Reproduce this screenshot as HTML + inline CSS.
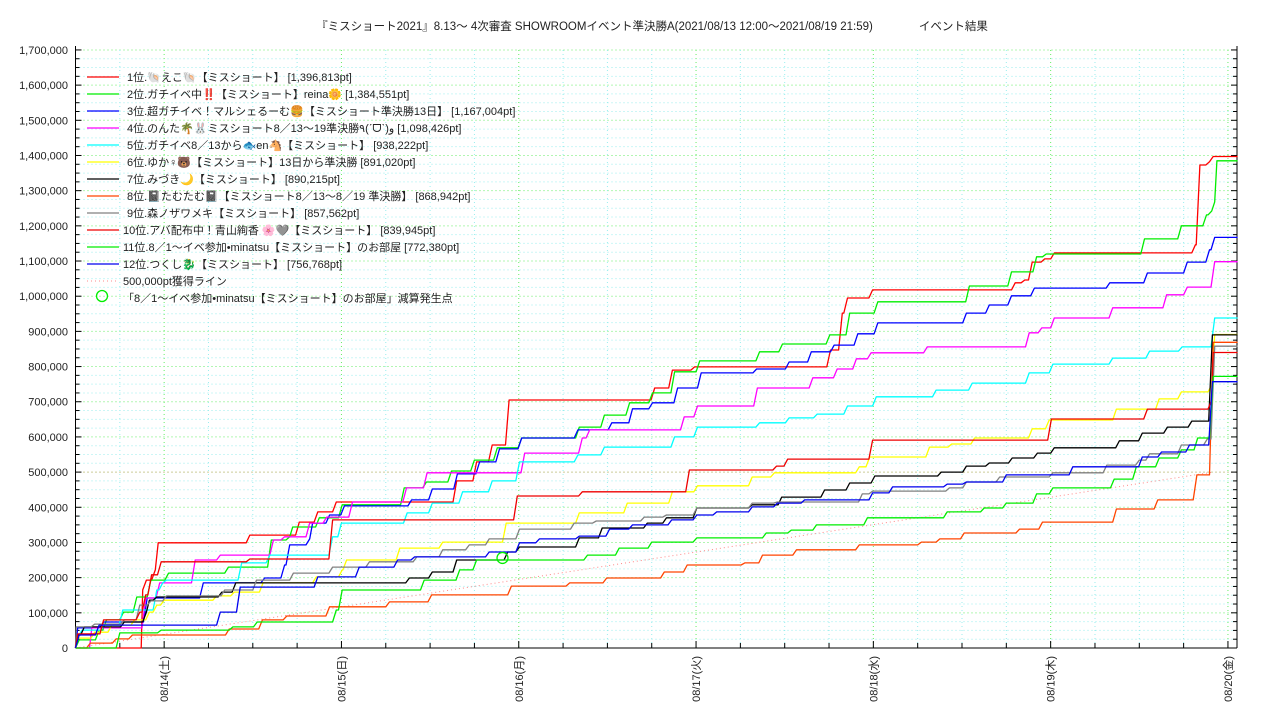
<!DOCTYPE html>
<html><head><meta charset="utf-8">
<style>
html,body{margin:0;padding:0;background:#fff;}
body{width:1280px;height:720px;overflow:hidden;font-family:"Liberation Sans","Noto Sans CJK JP",sans-serif;}
svg text{font-family:"Liberation Sans","Noto Sans CJK JP",sans-serif;}
</style></head>
<body>
<svg id="chart" width="1280" height="720" xmlns="http://www.w3.org/2000/svg">
<text x="652" y="30" font-size="11.5" text-anchor="middle" fill="#222">『ミスショート2021』8.13～ 4次審査 SHOWROOMイベント準決勝A(2021/08/13 12:00～2021/08/19 21:59)　　　　イベント結果</text>
<g id="grid"></g>
<g id="axes"></g>
<g id="series"></g>
<g id="legend"></g>
</svg>
<script>
const seriesNames = ["1位.🐚えこ🐚【ミスショート】 [1,396,813pt]","2位.ガチイベ中‼️【ミスショート】reina🌼 [1,384,551pt]","3位.超ガチイベ！マルシェるーむ🍔【ミスショート準決勝13日】 [1,167,004pt]","4位.のんた🌴🐰ミスショート8／13〜19準決勝٩(ˊᗜˋ)و [1,098,426pt]","5位.ガチイベ8／13から🐟en🐴【ミスショート】 [938,222pt]","6位.ゆか♀🐻【ミスショート】13日から準決勝 [891,020pt]","7位.みづき🌙【ミスショート】 [890,215pt]","8位.📓たむたむ📓【ミスショート8／13〜8／19 準決勝】 [868,942pt]","9位.森ノザワメキ【ミスショート】 [857,562pt]","10位.アバ配布中！青山絢香 🌸🩶【ミスショート】 [839,945pt]","11位.8／1〜イベ参加•minatsu【ミスショート】のお部屋 [772,380pt]","12位.つくし🐉【ミスショート】 [756,768pt]"];
const seriesColors = ["#ff0000","#00ee00","#0000ff","#ff00ff","#00ffff","#ffff00","#000000","#ff4500","#808080","#ee0000","#00ee00","#0000ee"];
// [hours since 2021/08/13 12:00, points (thousands)] change events
const s1 = [[0,0],[8.9,0],[9.1,165],[9.6,193],[10.8,222],[11.2,299],[23.6,321],[30.3,358],[32.8,387],[35.3,415],[51.6,475],[54.3,529],[56.4,577],[58.7,705],[78.4,739],[80.8,790],[83.8,799],[102.2,847],[103.8,952],[104.5,995],[107.9,1018],[127.2,1038],[128.5,1046],[129.5,1097],[131.2,1106],[132.5,1123],[151.6,1146],[152.2,1373],[153.5,1382],[154.0,1397]];
const s2 = [[0,0],[0.5,23],[3.2,51],[4.2,80],[6.5,102],[8.3,145],[10.2,193],[12.6,213],[20.7,230],[26.5,307],[29.0,316],[29.4,344],[33.0,370],[36.1,407],[44.5,455],[47.5,472],[50.9,503],[54.0,534],[57.1,569],[60.4,597],[68.2,628],[71.6,662],[75.0,697],[78.1,725],[81.1,785],[84.5,816],[92.6,842],[95.7,864],[102.1,890],[104.8,952],[108.6,984],[121.0,1029],[126.7,1069],[130.1,1112],[131.4,1120],[144.7,1163],[149.7,1200],[153.1,1231],[153.8,1242],[154.2,1268],[154.5,1385]];
const s3 = [[0,0],[0.3,57],[3.8,74],[9.7,142],[17.3,185],[25.6,199],[28.3,236],[29.0,293],[31.7,310],[32.1,355],[34.4,378],[36.4,404],[45.5,421],[48.3,452],[51.7,495],[54.7,529],[57.4,566],[60.4,597],[68.0,620],[72.6,640],[75.4,680],[78.1,697],[81.5,739],[84.7,782],[92.2,793],[96.6,813],[99.6,842],[102.7,861],[105.9,893],[108.6,924],[120.6,952],[123.7,975],[126.7,1001],[129.8,1023],[140.0,1038],[145.1,1066],[150.5,1097],[153.5,1132],[154.2,1167]];
const s4 = [[0,0],[1.9,0],[2.2,57],[9.5,142],[11.4,185],[16.2,250],[19.6,264],[26.8,307],[28.3,316],[31.7,355],[34.0,372],[37.5,415],[44.8,455],[47.6,498],[60.8,554],[68.6,597],[69.6,620],[82.4,657],[84.2,688],[92.3,739],[99.8,768],[103.1,793],[105.7,822],[107.7,839],[115.3,856],[129.1,896],[130.8,910],[132.5,938],[140.4,967],[147.7,1004],[150.5,1026],[154.2,1098]];
const s5 = [[0,0],[0.3,34],[0.9,51],[3.9,65],[6.4,108],[11.0,165],[11.8,185],[12.3,193],[22.5,242],[26.3,264],[34.8,316],[36.0,355],[44.9,384],[48.3,412],[52.4,444],[56.4,475],[60.1,529],[68.0,549],[71.6,571],[81.1,600],[84.2,628],[92.6,640],[96.6,654],[100.4,665],[104.5,688],[108.4,714],[116.5,733],[121.4,753],[129.1,782],[132.3,807],[140.4,824],[145.4,844],[149.8,856],[154.2,938]];
const s6 = [[0,0],[0.3,28],[2.6,45],[4.9,65],[8.0,80],[10.0,102],[11.0,122],[12.0,136],[19.1,148],[21.5,159],[25.4,185],[32.6,202],[36.1,222],[36.7,250],[43.9,284],[49.7,301],[58.3,355],[68.2,384],[74.7,412],[80.8,444],[84.2,461],[91.6,486],[94.6,498],[106.1,515],[107.5,543],[115.6,571],[118.6,580],[121.7,597],[129.5,623],[131.8,648],[140.9,679],[146.7,708],[149.7,728],[153.8,748],[154.2,891]];
const s7 = [[0,0],[0.3,37],[1.2,60],[6.6,74],[9.6,102],[10.0,136],[11.0,145],[19.8,159],[21.7,185],[45.2,199],[48.3,216],[51.6,250],[58.5,273],[60.1,287],[68.2,313],[71.3,341],[77.4,355],[80.0,370],[84.1,398],[91.6,407],[95.6,429],[101.4,449],[104.8,469],[108.2,489],[117.2,500],[120.6,517],[123.7,526],[126.8,540],[130.2,554],[132.5,569],[141.3,589],[144.4,611],[147.8,628],[151.1,645],[153.9,890]];
const s8 = [[0,0],[2.0,14],[5.5,26],[7.7,37],[20.8,54],[25.3,80],[28.6,91],[34.4,117],[42.5,131],[48.2,151],[59.0,176],[66.9,185],[71.9,199],[79.7,216],[82.8,236],[90.6,242],[93.0,264],[97.6,279],[106.1,293],[114.5,301],[117.0,310],[120.3,327],[127.8,338],[130.9,358],[140.9,395],[146.5,421],[151.8,492],[154.0,869]];
const s9 = [[0,0],[0.1,60],[2.6,68],[6.6,80],[8.7,122],[10.2,134],[12.3,148],[20.2,165],[24.5,193],[29.5,213],[34.8,230],[39.8,245],[46.2,259],[49.7,279],[53.3,293],[56.0,310],[60.1,338],[67.5,355],[70.5,361],[77.0,372],[80.0,378],[84.1,398],[91.6,412],[95.0,415],[106.5,438],[107.9,446],[118.3,455],[120.6,472],[125.1,486],[132.3,498],[139.6,520],[144.0,534],[145.4,552],[149.7,577],[153.2,594],[154.2,858]];
const s10 = [[0,0],[0.3,40],[3.8,80],[8.7,102],[9.5,151],[10.3,208],[11.6,245],[23.6,253],[34.8,364],[59.8,432],[68.6,444],[83.1,506],[94.9,517],[96.4,537],[107.9,591],[132.1,651],[145.1,679],[153.8,705],[154.0,840]];
const s11 = [[0,0],[6.0,43],[11.6,51],[21.3,60],[24.6,74],[35.3,108],[36.1,165],[47.2,193],[52.0,222],[54.3,250],[69.3,264],[73.6,284],[78.0,301],[84.1,313],[93.5,327],[96.9,335],[100.3,350],[107.2,370],[118.0,387],[123.0,398],[126.0,412],[130.1,438],[132.3,455],[140.6,480],[143.6,515],[146.7,540],[149.7,563],[151.9,597],[154.0,772]];
const s12 = [[0,0],[0.5,37],[3.2,65],[19.6,102],[22.3,173],[32.8,202],[38.4,230],[43.6,250],[45.9,259],[56.0,273],[60.1,299],[62.8,310],[68.2,318],[72.3,338],[75.4,350],[80.7,364],[84.1,378],[86.8,387],[91.6,401],[95.0,412],[98.7,421],[107.9,441],[110.6,458],[118.0,466],[120.6,472],[126.0,492],[135.0,515],[144.4,543],[147.0,557],[150.8,577],[153.9,757]];
const allSeries = [s1,s2,s3,s4,s5,s6,s7,s8,s9,s10,s11,s12];
const yTicks = [0,100,200,300,400,500,600,700,800,900,1000,1100,1200,1300,1400,1500,1600,1700];
const dayLabels = ["08/14(土)","08/15(日)","08/16(月)","08/17(火)","08/18(水)","08/19(木)","08/20(金)"];
const targetLine = [[0,0],[154.0,500]];
const minusPoint = [57.8,256];
const endHour = 157.3;

const NS="http://www.w3.org/2000/svg";
const X0=75.5, PXH=7.3875, Y0=648, PXK=0.3518, XR=1237, YT=50;
const xs=h=>X0+h*PXH, ys=k=>Y0-k*PXK;
function mk(tag,attrs,parent){const e=document.createElementNS(NS,tag);for(const k in attrs)e.setAttribute(k,attrs[k]);parent.appendChild(e);return e;}
const grid=document.getElementById('grid'), axes=document.getElementById('axes'), ser=document.getElementById('series'), leg=document.getElementById('legend');

// horizontal grid every 25k
for(let k=25;k<=1700;k+=25){
  const major=k%100===0;
  const col = k===500?'#999933':(major?'#66ee66':'#99eeee');
  const l=mk('line',{x1:X0,x2:XR,y1:ys(k),y2:ys(k),stroke:col,'stroke-width':1,'stroke-dasharray':'1,3'},grid);
  
  
}
// vertical grid every 6h
for(let h=6;h<endHour;h+=6){
  const major=(h-12)%24===0;
  const l=mk('line',{x1:xs(h),x2:xs(h),y1:YT,y2:Y0,stroke:major?'#66ee66':'#99eeee','stroke-width':1,'stroke-dasharray':'1,3'},grid);
  
  
}
// axes
let a=mk('line',{x1:X0,x2:X0,y1:YT-4,y2:Y0,stroke:'#000','stroke-width':1},axes);


a=mk('line',{x1:XR,x2:XR,y1:YT-4,y2:Y0,stroke:'#000','stroke-width':1},axes);


a=mk('line',{x1:X0,x2:XR,y1:Y0,y2:Y0,stroke:'#000','stroke-width':1},axes);


for(let k=0;k<=1700;k+=25){
  const len=k%100===0?6:4;
  let t=mk('line',{x1:X0,x2:X0+len,y1:ys(k),y2:ys(k),stroke:'#000'},axes);
  
  
  t=mk('line',{x1:XR,x2:XR-len,y1:ys(k),y2:ys(k),stroke:'#000'},axes);
  
  
}
yTicks.forEach(k=>{
  const t=mk('text',{x:68,y:ys(k)+4,'font-size':11,'text-anchor':'end',fill:'#222'},axes);
  t.textContent=(k*1000).toLocaleString('en-US');
  
  
});
for(let h=6;h<endHour;h+=6){
  const major=(h-12)%24===0;
  const t=mk('line',{x1:xs(h),x2:xs(h),y1:Y0,y2:Y0-(major?7:5),stroke:'#000'},axes);
  
  
}
dayLabels.forEach((d,i)=>{
  const x=xs(12+24*i)+4;
  const t=mk('text',{x:x,y:656,'font-size':11,'text-anchor':'end',fill:'#222',transform:`rotate(-90 ${x} 656)`},axes);
  t.textContent=d;
  
  
});
// target line
let tl=mk('line',{x1:xs(targetLine[0][0]),y1:ys(targetLine[0][1]),x2:xs(targetLine[1][0]),y2:ys(targetLine[1][1]),stroke:'#ff8888','stroke-width':1,'stroke-dasharray':'1,3'},ser);


// series (step with short ramp)
const RAMP=0.5;
allSeries.forEach((s,i)=>{
  let d=`M${xs(s[0][0]).toFixed(1)},${ys(s[0][1]).toFixed(1)}`;
  for(let j=1;j<s.length;j++){
    const hPrev=Math.max(s[j][0]-RAMP,s[j-1][0]);
    d+=` L${xs(hPrev).toFixed(1)},${ys(s[j-1][1]).toFixed(1)} L${xs(s[j][0]).toFixed(1)},${ys(s[j][1]).toFixed(1)}`;
  }
  d+=` L${xs(endHour).toFixed(1)},${ys(s[s.length-1][1]).toFixed(1)}`;
  const p=mk('path',{d:d,fill:'none',stroke:seriesColors[i],'stroke-width':1.3,'stroke-linejoin':'round'},ser);
  
  
});
let c=mk('circle',{cx:xs(minusPoint[0]),cy:ys(minusPoint[1]),r:5.5,fill:'none',stroke:'#00ee00','stroke-width':1.3},ser);


// legend
seriesNames.forEach((n,i)=>{
  const y=77+17*i;
  let l=mk('line',{x1:87,x2:119,y1:y,y2:y,stroke:seriesColors[i],'stroke-width':1.3},leg);
  
  
  const t=mk('text',{x:i<9?127:123,y:y+4,'font-size':11,fill:'#222'},leg);
  t.textContent=n;
  
  
});
let l2=mk('line',{x1:87,x2:119,y1:281,y2:281,stroke:'#ff8888','stroke-width':1,'stroke-dasharray':'1,3'},leg);


let t2=mk('text',{x:123,y:285,'font-size':11,fill:'#222'},leg);
t2.textContent='500,000pt獲得ライン';


let c2=mk('circle',{cx:102,cy:296,r:5.5,fill:'none',stroke:'#00ee00','stroke-width':1.3},leg);


let t3=mk('text',{x:123,y:302,'font-size':11,fill:'#222'},leg);
t3.textContent='「8／1〜イベ参加•minatsu【ミスショート】のお部屋」減算発生点';


</script>
</body></html>
